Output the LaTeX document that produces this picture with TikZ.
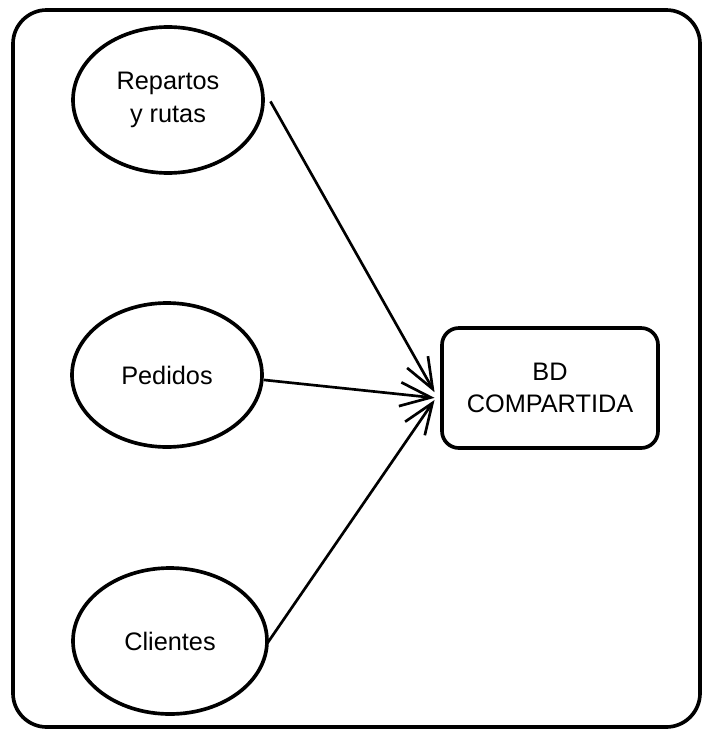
\documentclass[tikz,border=0pt]{standalone}
\usepackage{fontspec}
\setmainfont{Liberation Sans}
\usetikzlibrary{shapes.geometric,arrows.meta}

\begin{document}
\begin{tikzpicture}[x=0.025cm,y=0.025cm]
            \useasboundingbox (0,0) rectangle (706,-735);
            \draw[line width=2.6pt,rounded corners=24] (13,-10) rectangle (700,-727);

            \node (rep) at (168,-100) [ellipse,draw,line width=2.6pt,minimum width=190*0.025cm,minimum height=146*0.025cm,align=center,font=\fontsize{18}{23}\selectfont] {Repartos\\y rutas};
            \node (ped) at (167,-375) [ellipse,draw,line width=2.6pt,minimum width=190*0.025cm,minimum height=144*0.025cm,font=\fontsize{18}{23}\selectfont] {Pedidos};
            \node (cli) at (170,-641) [ellipse,draw,line width=2.6pt,minimum width=194*0.025cm,minimum height=146*0.025cm,font=\fontsize{18}{23}\selectfont] {Clientes};
            \node (bd) at (550,-388) [rectangle,draw,line width=2.6pt,rounded corners=12,minimum width=216*0.025cm,minimum height=120*0.025cm,align=center,font=\fontsize{18}{23}\selectfont] {BD\\COMPARTIDA};

            \draw[line width=1.9pt,-{Straight Barb[length=22pt,width=17pt]}] ([xshift=4,yshift=-1]rep.east) -- ([xshift=-4,yshift=-3]bd.west);
            \draw[line width=1.9pt,-{Straight Barb[length=22pt,width=17pt]}] ([yshift=-3.5]ped.east) -- ([xshift=-4,yshift=-7]bd.west);
            \draw[line width=1.9pt,-{Straight Barb[length=22pt,width=17pt]}] ([xshift=-1,yshift=-1.5]cli.east) -- ([xshift=-4,yshift=-8.5]bd.west);

        \end{tikzpicture}
\end{document}
